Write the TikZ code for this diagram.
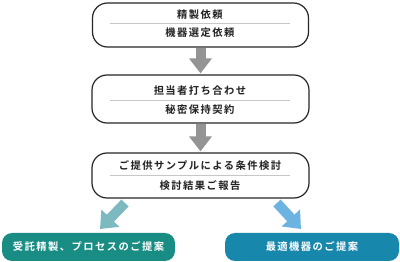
\documentclass[tikz,border=0pt]{standalone}
\usepackage{fontspec}
\newfontfamily\jpfont[LetterSpace=14]{Noto Sans CJK JP Bold}
\usetikzlibrary{arrows.meta}
\definecolor{txt}{HTML}{222222}
\definecolor{arrgray}{HTML}{949494}
\definecolor{lteal}{HTML}{7CB9C0}
\definecolor{lblue}{HTML}{6DB3E2}
\definecolor{teal}{HTML}{198C84}
\definecolor{blue}{HTML}{1787AB}
\tikzset{
  stepbox/.style={draw=black!85, line width=1.2pt, rounded corners=15pt, fill=white},
  lbl/.style={font=\jpfont\fontsize{10.3}{12}\selectfont, text=txt, inner sep=0pt},
  divider/.style={draw=black!22, line width=0.9pt},
  grayarrow/.style={draw=arrgray, line width=10pt, -{Triangle[width=22pt,length=15pt]}},
  result/.style={rounded corners=10pt, font=\jpfont\fontsize{10.3}{12}\selectfont, text=white},
}
\begin{document}
\begin{tikzpicture}[x=1pt,y=-1pt]
\useasboundingbox (0,0) rectangle (400,262);
% step boxes
\node[stepbox, minimum width=216pt, minimum height=44pt] (b1) at (200.5,25) {};
\node[stepbox, minimum width=217pt, minimum height=48pt] (b2) at (200.5,99) {};
\node[stepbox, minimum width=217pt, minimum height=45pt] (b3) at (200.5,175.5) {};
% texts
\node[lbl] (t11) at (200,15) {精製依頼};
\node[lbl] (t12) at (200,33) {機器選定依頼};
\node[lbl] (t21) at (200,91) {担当者打ち合わせ};
\node[lbl] (t22) at (200,110) {秘密保持契約};
\node[lbl] (t31) at (200,166) {ご提供サンプルによる条件検討};
\node[lbl] (t32) at (200,186) {検討結果ご報告};
% dividers
\draw[divider] (110,23.5) -- (290,23.5);
\draw[divider] (110,100) -- (290,100);
\draw[divider] (110,175.5) -- (290,175.5);
% arrows between boxes
\draw[grayarrow] (b1.south) -- ([yshift=1pt]b2.north);
\draw[grayarrow] (b2.south) -- ([yshift=1pt]b3.north);
% result boxes
\node[result, fill=teal, minimum width=173pt, minimum height=28pt] (r1) at (88.5,247) {受託精製、プロセスのご提案};
\node[result, fill=blue, minimum width=174pt, minimum height=28pt] (r2) at (312,247) {最適機器のご提案};
% diagonal arrows
\coordinate (la) at (125,203);
\coordinate (lb) at (100,229);
\coordinate (ra) at (277,203);
\coordinate (rb) at (301,229);
\draw[draw=lteal, line width=10pt, -{Triangle[width=24pt,length=15pt]}] (la) -- (lb);
\draw[draw=lblue, line width=10pt, -{Triangle[width=24pt,length=15pt]}] (ra) -- (rb);
\end{tikzpicture}
\end{document}
